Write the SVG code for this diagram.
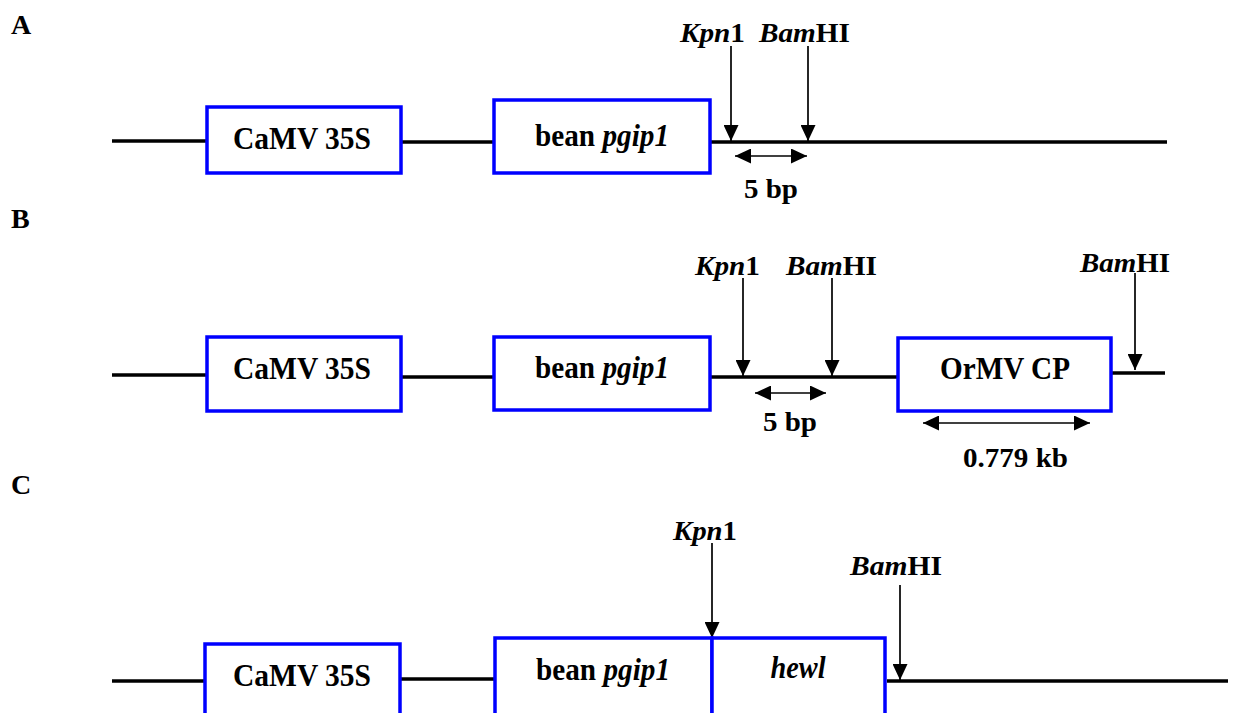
<svg xmlns="http://www.w3.org/2000/svg" width="1237" height="713" viewBox="0 0 1237 713">
<style>
text{font-family:"Liberation Serif","Times New Roman",serif;font-weight:bold;fill:#000}
.lbl{font-size:28px}
.t{font-size:32px;text-anchor:middle}
.it{font-style:italic}
.box{fill:#fff;stroke:#0000ff;stroke-width:3.5}
.dna{stroke:#000;stroke-width:3.5;fill:none}
.arr{stroke:#000;stroke-width:1.7;fill:none;marker-end:url(#ah)}
.dbl{stroke:#000;stroke-width:1.7;fill:none;marker-end:url(#ah);marker-start:url(#ah)}
</style>
<defs>
<marker id="ah" viewBox="0 0 16 15" refX="16" refY="7.5" markerWidth="16" markerHeight="15" markerUnits="userSpaceOnUse" orient="auto-start-reverse">
<path d="M0,0 L16,7.5 L0,15 z" fill="#000"/>
</marker>
</defs>
<rect width="1237" height="713" fill="#fff"/>
<text class="lbl" x="11" y="34">A</text>
<text class="lbl" x="11" y="228">B</text>
<text class="lbl" x="11" y="494">C</text>
<g id="connectors">
<line class="dna" x1="112" y1="141" x2="207" y2="141"/>
<line class="dna" x1="401" y1="142" x2="494" y2="142"/>
<line class="dna" x1="710" y1="142" x2="1167" y2="142"/>
<line class="arr" x1="731" y1="46" x2="731" y2="141"/>
<line class="arr" x1="808" y1="46" x2="808" y2="141"/>
<line class="dbl" x1="735" y1="156" x2="807" y2="156"/>
<line class="dna" x1="112" y1="375" x2="207" y2="375"/>
<line class="dna" x1="401" y1="377" x2="494" y2="377"/>
<line class="dna" x1="710" y1="377" x2="898" y2="377"/>
<line class="dna" x1="1111" y1="373" x2="1165" y2="373"/>
<line class="arr" x1="743" y1="278" x2="743" y2="376"/>
<line class="arr" x1="832" y1="278" x2="832" y2="376"/>
<line class="dbl" x1="755" y1="393" x2="826" y2="393"/>
<line class="arr" x1="1135" y1="273" x2="1135" y2="370"/>
<line class="dbl" x1="923" y1="423" x2="1090" y2="423"/>
<line class="dna" x1="112" y1="681" x2="205" y2="681"/>
<line class="dna" x1="400" y1="679" x2="495" y2="679"/>
<line class="dna" x1="887" y1="681" x2="1228" y2="681"/>
<line class="arr" x1="712" y1="543" x2="712" y2="638"/>
<line class="arr" x1="900" y1="585" x2="900" y2="680"/>
</g>
<g id="a-camv"><rect class="box" x="207" y="107" width="194" height="66"/><text class="t" x="302" y="149" textLength="138" lengthAdjust="spacingAndGlyphs">CaMV 35S</text></g>
<g id="a-bean"><rect class="box" x="494" y="100" width="216" height="73"/><text class="t" x="602" y="146" textLength="134" lengthAdjust="spacingAndGlyphs">bean <tspan class="it">pgip1</tspan></text></g>
<g id="a-kpn"><text class="lbl" x="680" y="42" textLength="65" lengthAdjust="spacingAndGlyphs"><tspan class="it">Kpn</tspan>1</text></g>
<g id="a-bam"><text class="lbl" x="759" y="42" textLength="91" lengthAdjust="spacingAndGlyphs"><tspan class="it">Bam</tspan>HI</text></g>
<g id="a-5bp"><text class="lbl" x="744" y="198" textLength="54" lengthAdjust="spacingAndGlyphs">5 bp</text></g>
<g id="b-camv"><rect class="box" x="207" y="337" width="194" height="74"/><text class="t" x="302" y="379" textLength="138" lengthAdjust="spacingAndGlyphs">CaMV 35S</text></g>
<g id="b-bean"><rect class="box" x="494" y="337" width="216" height="73"/><text class="t" x="602" y="378" textLength="134" lengthAdjust="spacingAndGlyphs">bean <tspan class="it">pgip1</tspan></text></g>
<g id="b-ormv"><rect class="box" x="898" y="338" width="213" height="73"/><text class="t" x="1005" y="379" textLength="130" lengthAdjust="spacingAndGlyphs">OrMV CP</text></g>
<g id="b-kpn"><text class="lbl" x="695" y="275" textLength="65" lengthAdjust="spacingAndGlyphs"><tspan class="it">Kpn</tspan>1</text></g>
<g id="b-bam"><text class="lbl" x="786" y="275" textLength="91" lengthAdjust="spacingAndGlyphs"><tspan class="it">Bam</tspan>HI</text></g>
<g id="b-bam2"><text class="lbl" x="1080" y="272" textLength="90" lengthAdjust="spacingAndGlyphs"><tspan class="it">Bam</tspan>HI</text></g>
<g id="b-5bp"><text class="lbl" x="763" y="431" textLength="54" lengthAdjust="spacingAndGlyphs">5 bp</text></g>
<g id="b-kb"><text class="lbl" x="963" y="467" textLength="105" lengthAdjust="spacingAndGlyphs">0.779 kb</text></g>
<g id="c-camv"><rect class="box" x="205" y="644" width="195" height="75"/><text class="t" x="302" y="686" textLength="138" lengthAdjust="spacingAndGlyphs">CaMV 35S</text></g>
<g id="c-bean"><rect class="box" x="495" y="638" width="217" height="81"/><text class="t" x="603" y="680" textLength="134" lengthAdjust="spacingAndGlyphs">bean <tspan class="it">pgip1</tspan></text></g>
<g id="c-hewl"><rect class="box" x="712" y="638" width="173" height="81"/><text class="t it" x="798" y="678" textLength="55" lengthAdjust="spacingAndGlyphs">hewl</text></g>
<g id="c-kpn"><text class="lbl" x="673" y="540" textLength="64" lengthAdjust="spacingAndGlyphs"><tspan class="it">Kpn</tspan>1</text></g>
<g id="c-bam"><text class="lbl" x="850" y="575" textLength="92" lengthAdjust="spacingAndGlyphs"><tspan class="it">Bam</tspan>HI</text></g>
</svg>
